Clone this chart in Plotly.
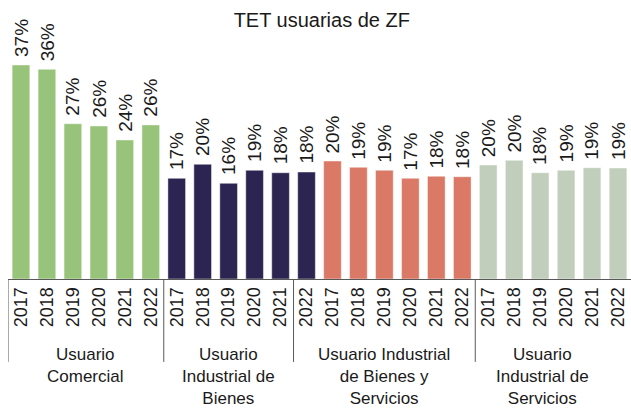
import plotly.graph_objects as go

groups = ["Usuario<br>Comercial",
          "Usuario<br>Industrial de<br>Bienes",
          "Usuario Industrial<br>de Bienes y<br>Servicios",
          "Usuario<br>Industrial de<br>Servicios"]
years = ["2017", "2018", "2019", "2020", "2021", "2022"]
comercial = [0.3677, 0.3603, 0.2668, 0.2629, 0.2388, 0.2648]
ind_bienes = [0.1730, 0.1971, 0.1644, 0.1868, 0.1826, 0.1838]
ind_bienes_serv = [0.2027, 0.1919, 0.1868, 0.1730, 0.1765, 0.1758]
ind_serv = [0.1959, 0.2039, 0.1826, 0.1868, 0.1912, 0.1907]
colors = ["#97C37A", "#2D2551", "#DA7966", "#C0CEBB"]

series = [comercial, ind_bienes, ind_bienes_serv, ind_serv]
separators = [-0.5, 5.5, 10.5, 17.5]
label_x = [2.5, 8, 14, 20.1]

FONT = "Liberation Sans"
TXT = "#1a1a1a"
fig = go.Figure()
n = 0
ticktext = []
for vals, col in zip(series, colors):
    xs = list(range(n, n + len(vals)))
    fig.add_trace(go.Bar(
        x=xs, y=vals, width=0.68,
        marker=dict(color=col, line=dict(color="rgba(255,255,255,0.55)", width=0.8)),
        showlegend=False, hoverinfo="skip"))
    for xv, v in zip(xs, vals):
        fig.add_annotation(x=xv, y=v, xref="x", yref="y", text=f"{v:.0%}",
                           textangle=-90, showarrow=False, yanchor="bottom",
                           yshift=6, font=dict(family=FONT, size=19, color=TXT))
    ticktext += years
    n += len(vals)

fig.update_xaxes(range=[-0.5, n - 0.5], tickmode="array", tickvals=list(range(n)),
                 ticktext=ticktext, tickangle=-90, showgrid=False, zeroline=False,
                 showline=True, linecolor="#595959", linewidth=1, ticks="",
                 tickfont=dict(family=FONT, size=18, color=TXT))
fig.update_yaxes(range=[0, 0.4107], visible=False, showgrid=False)

for sx in separators:
    fig.add_shape(type="line", xref="x", yref="paper", x0=sx, x1=sx, y0=0, y1=-0.347,
                  line=dict(color="#595959", width=1))
for gx, g in zip(label_x, groups):
    fig.add_annotation(x=gx, xref="x", y=-0.268, yref="paper", yanchor="top",
                       text=g, showarrow=False,
                       font=dict(family=FONT, size=17, color=TXT))

fig.update_layout(
    width=631, height=408, margin=dict(l=8, r=0, t=40, b=129),
    paper_bgcolor="white", plot_bgcolor="white", bargap=0.32,
    title=dict(text="TET usuarias de ZF", x=0.51, xref="container", xanchor="center",
               y=0.95, yref="container", yanchor="middle",
               font=dict(family=FONT, size=20, color=TXT)),
)
fig.write_html("out.html", config={"displayModeBar": False},
               post_script="document.body.style.margin='0';document.body.style.overflow='hidden';")
